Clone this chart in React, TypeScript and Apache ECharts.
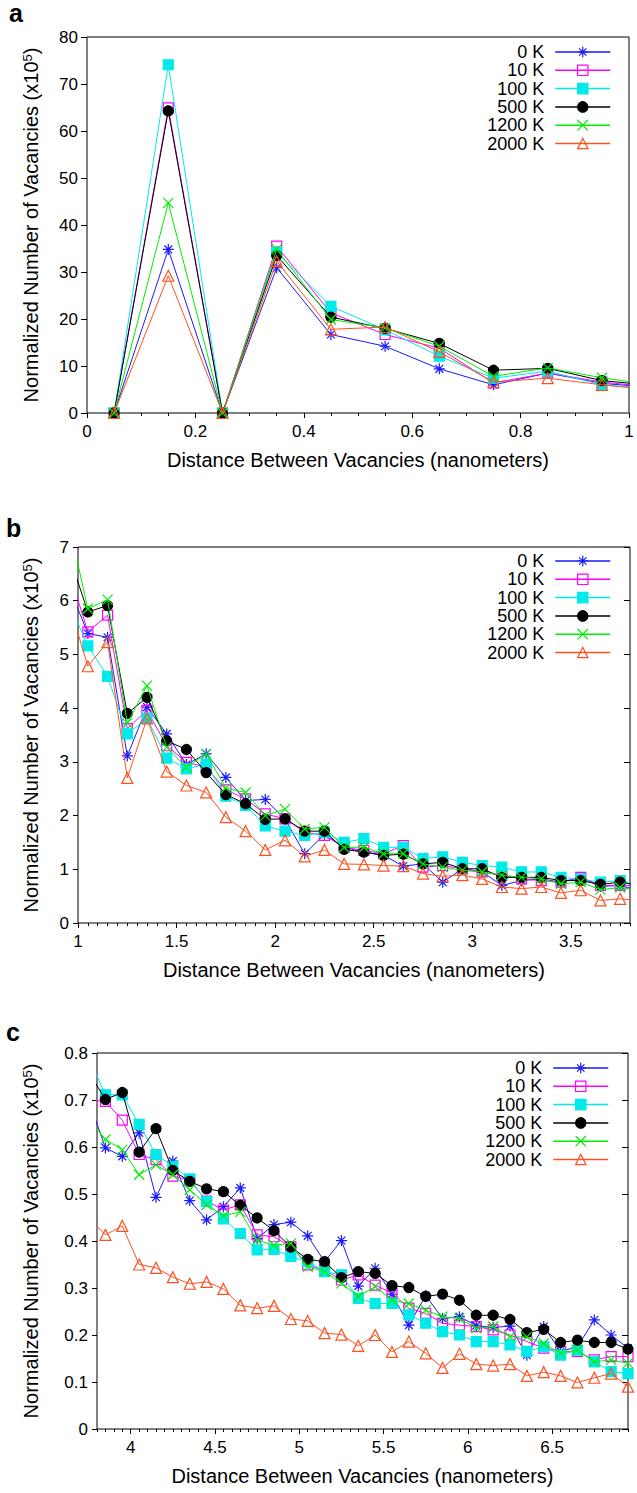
import React, { useEffect, useRef } from "react";
import * as echarts from "echarts";

// Distance between vacancies (nm), bin centres shared by all three panels
const distances = [
  0.05, 0.15, 0.25, 0.35, 0.45, 0.55, 0.65, 0.75, 0.85, 0.95,
  1.05, 1.15, 1.25, 1.35, 1.45, 1.55, 1.65, 1.75, 1.85, 1.95,
  2.05, 2.15, 2.25, 2.35, 2.45, 2.55, 2.65, 2.75, 2.85, 2.95,
  3.05, 3.15, 3.25, 3.35, 3.45, 3.55, 3.65, 3.75, 3.85, 3.95,
  4.05, 4.15, 4.25, 4.35, 4.45, 4.55, 4.65, 4.75, 4.85, 4.95,
  5.05, 5.15, 5.25, 5.35, 5.45, 5.55, 5.65, 5.75, 5.85, 5.95,
  6.05, 6.15, 6.25, 6.35, 6.45, 6.55, 6.65, 6.75, 6.85, 6.95,
];

const temperatures = ["0 K", "10 K", "100 K", "500 K", "1200 K", "2000 K"];

// Normalized number of vacancies (x10^5)
const vac0K = [
  0, 34.8, 0, 30.9, 16.7, 14.2, 9.4, 6.0, 8.5, 6.3,
  5.39, 5.32, 3.11, 4.02, 3.52, 2.95, 3.15, 2.71, 2.28, 2.30,
  1.93, 1.29, 1.65, 1.41, 1.32, 1.26, 1.06, 1.10, 0.76, 1.01,
  0.95, 0.70, 0.79, 0.82, 0.76, 0.85, 0.68, 0.70,
  0.598, 0.580, 0.630, 0.493, 0.570, 0.486, 0.445, 0.473, 0.513, 0.405,
  0.435, 0.440, 0.411, 0.356, 0.401, 0.304, 0.342, 0.287, 0.221, 0.284,
  0.235, 0.239, 0.220, 0.216, 0.219, 0.157, 0.218, 0.165, 0.175, 0.232,
  0.200, 0.172,
];
const vac10K = [
  0, 64.9, 0, 35.5, 21.3, 16.7, 13.8, 6.4, 8.5, 6.6,
  5.42, 5.73, 3.62, 3.96, 3.30, 2.99, 2.90, 2.48, 2.31, 2.03,
  1.94, 1.69, 1.63, 1.41, 1.35, 1.29, 1.44, 1.04, 1.07, 1.01,
  0.95, 0.89, 0.82, 0.79, 0.76, 0.85, 0.70, 0.70,
  0.697, 0.657, 0.584, 0.573, 0.538, 0.530, 0.485, 0.466, 0.477, 0.413,
  0.409, 0.388, 0.349, 0.338, 0.317, 0.328, 0.306, 0.289, 0.257, 0.246,
  0.225, 0.221, 0.218, 0.211, 0.200, 0.186, 0.172, 0.165, 0.165, 0.147,
  0.154, 0.154,
];
const vac100K = [
  0, 74.1, 0, 34.2, 22.7, 17.7, 12.1, 7.4, 8.9, 6.0,
  5.16, 4.59, 3.52, 3.81, 3.07, 2.87, 2.96, 2.36, 2.19, 1.81,
  1.71, 1.63, 1.69, 1.50, 1.57, 1.41, 1.41, 1.20, 1.23, 1.13,
  1.07, 1.04, 0.95, 0.95, 0.85, 0.82, 0.76, 0.79,
  0.711, 0.711, 0.648, 0.584, 0.559, 0.532, 0.484, 0.447, 0.416, 0.381,
  0.382, 0.367, 0.356, 0.335, 0.328, 0.278, 0.267, 0.267, 0.243, 0.225,
  0.207, 0.200, 0.186, 0.186, 0.179, 0.165, 0.175, 0.157, 0.168, 0.143,
  0.122, 0.118,
];
const vac500K = [
  0, 64.3, 0, 33.5, 20.4, 18.0, 14.8, 9.1, 9.5, 6.9,
  5.79, 5.91, 3.90, 4.20, 3.39, 3.23, 2.80, 2.39, 2.22, 1.93,
  1.94, 1.71, 1.71, 1.37, 1.32, 1.26, 1.28, 1.10, 1.13, 1.01,
  1.01, 0.85, 0.85, 0.85, 0.79, 0.79, 0.72, 0.76,
  0.701, 0.716, 0.589, 0.639, 0.550, 0.527, 0.511, 0.505, 0.476, 0.449,
  0.422, 0.387, 0.361, 0.356, 0.322, 0.335, 0.331, 0.305, 0.301, 0.282,
  0.287, 0.274, 0.242, 0.242, 0.233, 0.205, 0.212, 0.184, 0.189, 0.184,
  0.184, 0.170,
];
const vac1200K = [
  0, 44.7, 0, 34.8, 19.9, 18.1, 14.2, 7.8, 9.6, 7.5,
  5.85, 6.02, 3.72, 4.42, 3.27, 2.90, 3.15, 2.51, 2.43, 2.00,
  2.12, 1.75, 1.78, 1.41, 1.41, 1.29, 1.29, 1.10, 1.04, 0.98,
  0.95, 0.89, 0.85, 0.82, 0.73, 0.76, 0.62, 0.66,
  0.616, 0.594, 0.541, 0.562, 0.541, 0.509, 0.477, 0.454, 0.462, 0.402,
  0.391, 0.395, 0.345, 0.335, 0.310, 0.282, 0.303, 0.274, 0.267, 0.253,
  0.239, 0.235, 0.214, 0.218, 0.196, 0.196, 0.182, 0.161, 0.168, 0.143,
  0.147, 0.140,
];
const vac2000K = [
  0, 29.2, 0, 32.3, 17.8, 18.3, 13.0, 6.6, 7.4, 6.0,
  4.78, 5.23, 2.70, 3.81, 2.82, 2.56, 2.43, 1.97, 1.71, 1.36,
  1.54, 1.24, 1.36, 1.10, 1.09, 1.07, 1.06, 0.92, 0.87, 0.89,
  0.82, 0.67, 0.64, 0.67, 0.56, 0.61, 0.42, 0.45,
  0.413, 0.432, 0.350, 0.343, 0.323, 0.309, 0.313, 0.298, 0.263, 0.257,
  0.262, 0.234, 0.230, 0.204, 0.201, 0.177, 0.200, 0.164, 0.186, 0.161,
  0.130, 0.160, 0.138, 0.135, 0.138, 0.113, 0.121, 0.113, 0.099, 0.109,
  0.118, 0.090,
];

const seriesValues = [vac0K, vac10K, vac100K, vac500K, vac1200K, vac2000K];

// Axis ticks per panel
const xTicksA = [0, 0.2, 0.4, 0.6, 0.8, 1];
const xTicksB = [1, 1.5, 2, 2.5, 3, 3.5];
const xTicksC = [4, 4.5, 5, 5.5, 6, 6.5];
const panelLetters = ["a", "b", "c"];

const STAR = "path://M5,0L5,10M0,5L10,5M1.46,1.46L8.54,8.54M8.54,1.46L1.46,8.54";
const CROSS = "path://M0,0L10,10M10,0L0,10";

const styles = [
  { color: "#1a1aff", symbol: STAR, fill: "none", size: 11 },
  { color: "#ff00ff", symbol: "rect", fill: "none", size: 10 },
  { color: "#00eaea", symbol: "rect", fill: "#00eaea", size: 10 },
  { color: "#000000", symbol: "circle", fill: "#000000", size: 10 },
  { color: "#00ee00", symbol: CROSS, fill: "none", size: 10 },
  { color: "#ff5020", symbol: "triangle", fill: "none", size: 11 },
];

const FONT = "Liberation Sans";

const panels = [
  { left: 87, top: 37, width: 542, height: 376, xMin: 0, xMax: 1, yMax: 80, yInt: 10, ticks: xTicksA, nameGap: 46, legendTop: 43, legendRight: 26, letterY: 13 },
  { left: 78, top: 547, width: 552, height: 376, xMin: 1, xMax: 3.8, yMax: 7, yInt: 1, ticks: xTicksB, nameGap: 37, legendTop: 552, legendRight: 26, letterY: 528 },
  { left: 97, top: 1053, width: 531, height: 376, xMin: 3.8, xMax: 6.95, yMax: 0.8, yInt: 0.1, ticks: xTicksC, nameGap: 56, legendTop: 1059, legendRight: 28, letterY: 1032 },
];

function minorTicks(min: number, max: number, step: number, majors: number[]) {
  const out: number[] = [];
  const start = Math.ceil(min / step - 1e-9);
  const end = Math.floor(max / step + 1e-9);
  for (let k = start; k <= end; k++) {
    const v = Math.round(k * step * 1000) / 1000;
    if (!majors.some((m) => Math.abs(m - v) < 1e-6)) out.push(v);
  }
  return out;
}

export default function App() {
  const ref = useRef<HTMLDivElement>(null);

  useEffect(() => {
    document.body.style.margin = "0";
    if (!ref.current) return;
    const chart = echarts.init(ref.current, undefined, { renderer: "svg" });

    const grid: any[] = [];
    const xAxis: any[] = [];
    const yAxis: any[] = [];
    const legend: any[] = [];
    const series: any[] = [];
    const graphic: any[] = [];

    panels.forEach((p, pi) => {
      grid.push({
        left: p.left, top: p.top, width: p.width, height: p.height,
        show: true, borderColor: "#000", borderWidth: 1, backgroundColor: "transparent",
      });
      xAxis.push({
        type: "value", gridIndex: pi, position: "bottom", min: p.xMin, max: p.xMax,
        name: "Distance Between Vacancies (nanometers)",
        nameLocation: "middle", nameGap: 37,
        nameTextStyle: { fontFamily: FONT, fontSize: 20, color: "#000" },
        axisLine: { show: false },
        axisTick: { show: true, inside: false, length: 5, customValues: p.ticks, lineStyle: { color: "#000" } },
        axisLabel: { show: true, customValues: p.ticks, margin: 10, fontFamily: FONT, fontSize: 17, color: "#000" },
        splitLine: { show: false },
      });
      xAxis.push({
        type: "value", gridIndex: pi, position: "bottom", offset: 0, min: p.xMin, max: p.xMax,
        axisLine: { show: false },
        axisTick: { show: true, inside: false, length: 3, customValues: minorTicks(p.xMin, p.xMax, 0.05, p.ticks), lineStyle: { color: "#000" } },
        axisLabel: { show: false },
        splitLine: { show: false },
      });
      yAxis.push({
        type: "value", gridIndex: pi, position: "left", min: 0, max: p.yMax, interval: p.yInt,
        name: "Normalized Number of Vacancies (x10{sup|5})",
        nameLocation: "middle", nameGap: p.nameGap, nameRotate: 90,
        nameTextStyle: {
          fontFamily: FONT, fontSize: 20, color: "#000",
          rich: { sup: { fontFamily: FONT, fontSize: 13, color: "#000", verticalAlign: "top", lineHeight: 13 } },
        },
        axisLine: { show: false },
        axisTick: { show: true, inside: false, length: 5, lineStyle: { color: "#000" } },
        axisLabel: { margin: 9, fontFamily: FONT, fontSize: 17, color: "#000" },
        splitLine: { show: false },
      });
      yAxis.push({
        type: "value", gridIndex: pi, position: "right", min: 0, max: p.yMax, interval: p.yInt,
        axisLine: { show: false },
        axisTick: { show: true, inside: true, length: 6, lineStyle: { color: "#000" } },
        axisLabel: { show: false },
        splitLine: { show: false },
      });
      legend.push({
        orient: "vertical", align: "right", top: p.legendTop, right: p.legendRight,
        padding: 0, itemGap: 0.3, itemWidth: 55, itemHeight: 13, selectedMode: false,
        data: temperatures,
        textStyle: { fontFamily: FONT, fontSize: 18, color: "#000", padding: [0, 6, 0, 0] },
        lineStyle: { width: 1.5 },
        itemStyle: { borderWidth: 1.2 },
      });
      temperatures.forEach((name, si) => {
        const st = styles[si];
        series.push({
          type: "line", name, xAxisIndex: pi * 2, yAxisIndex: pi * 2,
          data: distances.map((d, i) => [d, seriesValues[si][i]]),
          symbol: st.symbol, symbolSize: st.size, showSymbol: true,
          clip: true,
          lineStyle: { color: st.color, width: 1 },
          itemStyle: { color: st.fill, borderColor: st.color, borderWidth: 1.2 },
          emphasis: { disabled: true },
          z: 2 + si,
        });
      });
      graphic.push({
        type: "text", left: undefined, x: pi === 0 ? 9 : 6, y: p.letterY,
        style: { text: panelLetters[pi], font: `bold 25px "${FONT}"`, fill: "#000", textVerticalAlign: "middle", verticalAlign: "middle" },
      });
    });

    chart.setOption({
      animation: false,
      backgroundColor: "#fff",
      textStyle: { fontFamily: FONT },
      grid, xAxis, yAxis, legend, series, graphic,
    });
    return () => chart.dispose();
  }, []);

  return (
    <div
      ref={ref}
      style={{ position: "absolute", left: 0, top: 0, width: 637, height: 1493 }}
    />
  );
}
